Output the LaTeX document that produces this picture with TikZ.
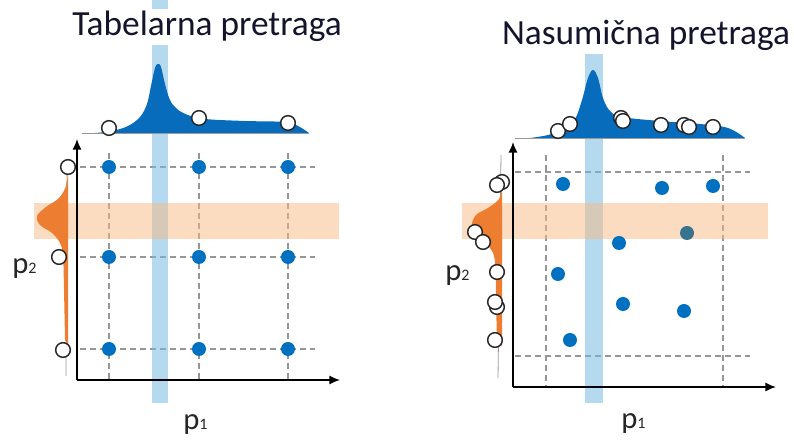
\documentclass[tikz,border=0pt]{standalone}
\usepackage{fontspec}
\setmainfont{Carlito}
\usetikzlibrary{arrows.meta}
\definecolor{mblue}{RGB}{0,112,192}
\definecolor{dblue}{RGB}{8,108,188}
\definecolor{morange}{RGB}{237,125,49}
\definecolor{bandblue}{RGB}{120,185,225}
\definecolor{bandorange}{RGB}{250,185,130}
\definecolor{gridgrey}{RGB}{150,150,150}
\definecolor{tealdot}{RGB}{55,115,140}
\definecolor{titlecol}{RGB}{20,20,45}
\begin{document}
\begin{tikzpicture}[x=0.75pt,y=-0.75pt,
  dot/.style={circle,fill=mblue,inner sep=0pt,minimum size=10.5pt},
  ring/.style={circle,draw=black!85,fill=white,line width=1.1pt,inner sep=0pt,minimum size=11pt},
  gridline/.style={gridgrey,dashed,dash pattern=on 4.5pt off 3pt,line width=0.8pt},
  axis/.style={black,line width=1.4pt,-{Latex[length=8pt,width=7pt]}},
  thin/.style={gray!80,line width=0.6pt},
  title/.style={font=\fontsize{26.5}{30}\selectfont,text=titlecol,fill=white,inner sep=2pt,anchor=base},
  plabel/.style={font=\fontsize{23}{26}\selectfont,text=black!85,anchor=base west,inner sep=0pt}]
\useasboundingbox (0,0) rectangle (794,441);

% ================= LEFT PANEL =================
\coordinate (LgA1) at (80,167); \coordinate (LgA2) at (315,167);
\coordinate (LgB1) at (80,257); \coordinate (LgB2) at (315,257);
\coordinate (LgC1) at (80,349); \coordinate (LgC2) at (315,349);
\coordinate (LvA1) at (109,153); \coordinate (LvA2) at (109,380);
\coordinate (LvB1) at (199,153); \coordinate (LvB2) at (199,380);
\coordinate (LvC1) at (288,153); \coordinate (LvC2) at (288,380);
\foreach \a/\b in {LgA1/LgA2,LgB1/LgB2,LgC1/LgC2,LvA1/LvA2,LvB1/LvB2,LvC1/LvC2}
  \draw[gridline] (\a) -- (\b);
\fill[bandblue,opacity=0.55] (152,0) rectangle (168,403);
\fill[bandorange,opacity=0.5] (34,203) rectangle (339,239);
\coordinate (LtA) at (82,133); \coordinate (LtB) at (309,133);
\draw[thin] (LtA) -- (LtB);
\coordinate (LsA) at (67,160); \coordinate (LsB) at (66,376);
\draw[thin] (LsA) -- (LsB);
\fill[dblue] plot[smooth,tension=0.6] coordinates {(95,133) (112,131) (128,126) (140,117) (147,104) (151,86) (155,68) (158,64) (161,67) (165,84) (170,100) (177,109) (188,115) (205,119) (245,121) (285,122) (298,126) (309,133)} -- cycle;
\fill[morange] plot[smooth,tension=0.6] coordinates {(68,172) (66,186) (59,198) (46,207) (37,216) (40,225) (52,233) (60,243) (63,256) (64,290) (65,340)} -- (68,345) -- cycle;
\node[dot] (L11) at (109,167) {}; \node[dot] (L12) at (199,167) {}; \node[dot] (L13) at (288,167) {};
\node[dot] (L21) at (109,257) {}; \node[dot] (L22) at (199,257) {}; \node[dot] (L23) at (288,257) {};
\node[dot] (L31) at (109,349) {}; \node[dot] (L32) at (199,349) {}; \node[dot] (L33) at (288,349) {};
\node[ring] (Lt1) at (109,128) {}; \node[ring] (Lt2) at (199,118) {}; \node[ring] (Lt3) at (288,123) {};
\node[ring] (Ls1) at (68,167) {}; \node[ring] (Ls2) at (59,257) {}; \node[ring] (Ls3) at (63,350) {};
\coordinate (LO) at (77,380); \coordinate (LY) at (77,139); \coordinate (LX) at (340,380);
\draw[axis] (LO) -- (LY);
\draw[axis] (LO) -- (LX);
\node[title] (Ltitle) at (207,36) {Tabelarna pretraga};
\node[plabel] (Lp2) at (12,274) {p{\fontsize{12}{12}\selectfont 2}};
\node[plabel] (Lp1) at (183,430) {p{\fontsize{12}{12}\selectfont 1}};

% ================= RIGHT PANEL =================
\coordinate (RgA1) at (515,172); \coordinate (RgA2) at (750,172);
\coordinate (RgB1) at (515,356); \coordinate (RgB2) at (750,356);
\coordinate (RvA1) at (546,155); \coordinate (RvA2) at (546,387);
\coordinate (RvB1) at (723,155); \coordinate (RvB2) at (723,387);
\foreach \a/\b in {RgA1/RgA2,RgB1/RgB2,RvA1/RvA2,RvB1/RvB2}
  \draw[gridline] (\a) -- (\b);
\fill[bandblue,opacity=0.55] (585,48) rectangle (603,403);
\fill[bandorange,opacity=0.5] (462,203) rectangle (768,239);
\coordinate (RtA) at (515,138); \coordinate (RtB) at (745,138);
\draw[thin] (RtA) -- (RtB);
\coordinate (RsA) at (501,155); \coordinate (RsB) at (498,378);
\draw[thin] (RsA) -- (RsB);
\fill[dblue] plot[smooth,tension=0.6] coordinates {(530,138) (548,135) (564,129) (575,119) (582,100) (588,78) (593,70) (598,78) (603,98) (610,111) (622,117) (660,121) (700,124) (728,128) (745,138)} -- cycle;
\fill[morange] plot[smooth,tension=0.6] coordinates {(502,188) (499,199) (488,208) (476,215) (472,226) (478,238) (490,248) (495,262) (496,300) (497,342)} -- (502,346) -- cycle;
\node[dot] (R1) at (563,184) {}; \node[dot] (R2) at (662,188) {}; \node[dot] (R3) at (713,186) {};
\node[dot] (R4) at (619,243) {}; \node[dot,fill=tealdot] (R5) at (687,233) {};
\node[dot] (R6) at (558,274) {}; \node[dot] (R7) at (623,304) {};
\node[dot] (R8) at (684,311) {}; \node[dot] (R9) at (570,340) {};
\node[ring] (Rt1) at (558,131) {}; \node[ring] (Rt2) at (570,124) {};
\node[ring] (Rt3) at (621,118) {}; \node[ring] (Rt4) at (623,121) {};
\node[ring] (Rt5) at (661,125) {}; \node[ring] (Rt6) at (684,125) {};
\node[ring] (Rt7) at (689,127) {}; \node[ring] (Rt8) at (713,127) {};
\node[ring] (Rs1) at (502,182) {}; \node[ring] (Rs2) at (497,185) {};
\node[ring] (Rs3) at (475,232) {}; \node[ring] (Rs4) at (483,242) {};
\node[ring] (Rs5) at (497,272) {}; \node[ring] (Rs6) at (497,307) {};
\node[ring] (Rs7) at (495,302) {}; \node[ring] (Rs8) at (495,340) {};
\coordinate (RO) at (513,387); \coordinate (RY) at (513,142); \coordinate (RX) at (776,387);
\draw[axis] (RO) -- (RY);
\draw[axis] (RO) -- (RX);
\node[title] (Rtitle) at (646,45) {Nasumična pretraga};
\node[plabel] (Rp2) at (445,281) {p{\fontsize{12}{12}\selectfont 2}};
\node[plabel] (Rp1) at (621,429) {p{\fontsize{12}{12}\selectfont 1}};
\end{tikzpicture}
\end{document}
